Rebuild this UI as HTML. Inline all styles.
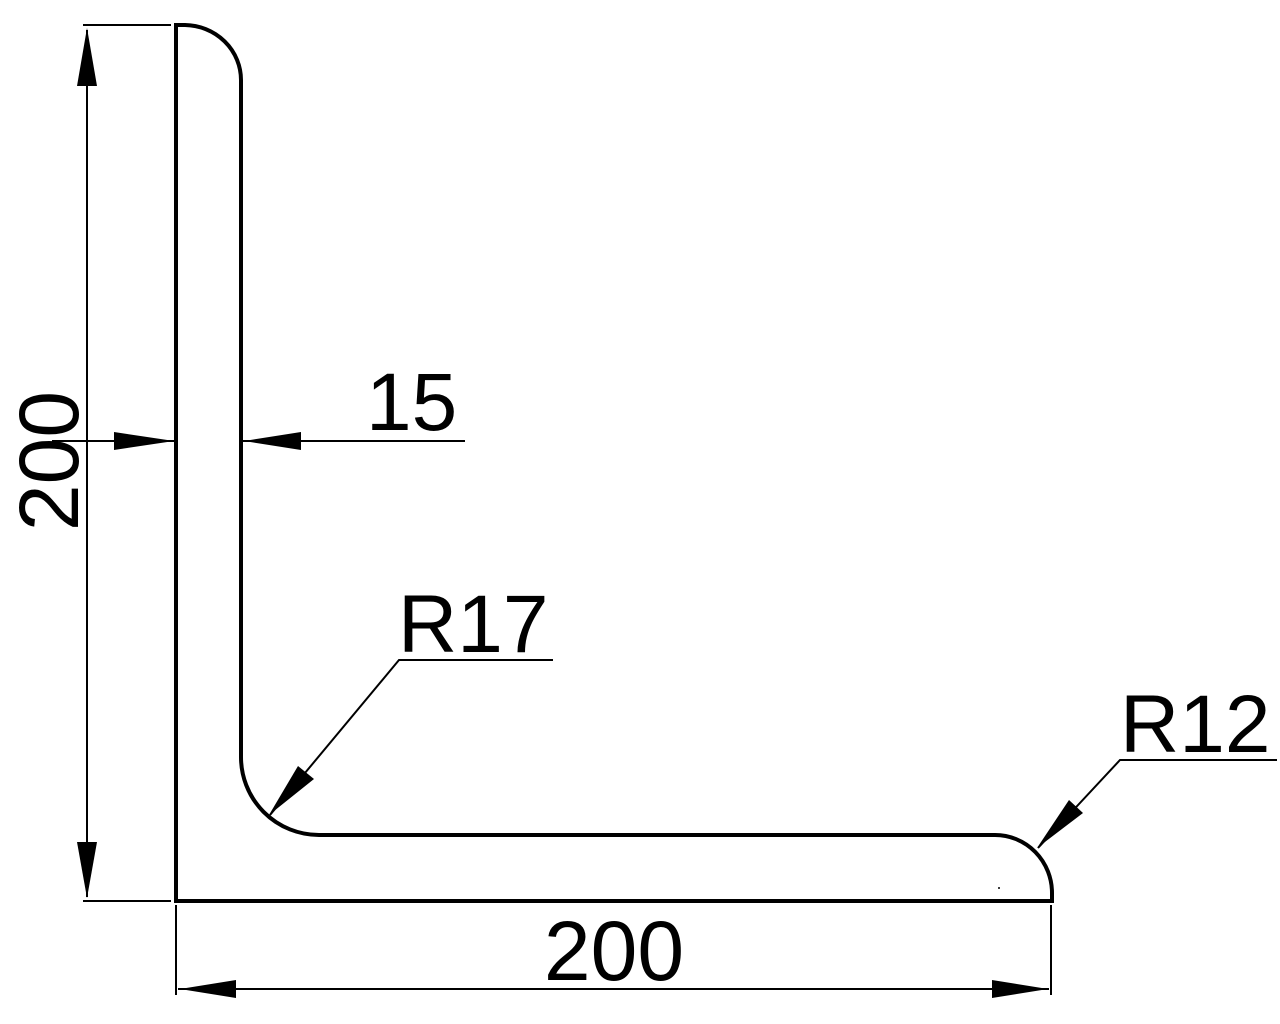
<!DOCTYPE html>
<html><head><meta charset="utf-8"><style>
html,body{margin:0;padding:0;background:#fff;}
svg{display:block;}
text{font-family:"Liberation Sans",Arial,sans-serif;fill:#000;}
</style></head><body>
<svg width="1280" height="1024" viewBox="0 0 1280 1024" xmlns="http://www.w3.org/2000/svg">
<!-- profile -->
<path d="M176,901 L176,25 L185,25 A57,55 0 0 1 241,80 L241,756 A78,78 0 0 0 319,835 L995,835 A57,58 0 0 1 1052,893 L1052,901 Z" fill="none" stroke="#000" stroke-width="4"/>
<circle cx="999" cy="888" r="1" fill="#000"/>
<g stroke="#000" stroke-width="2" fill="none">
<!-- left vertical dimension -->
<line x1="83" y1="25" x2="171" y2="25"/>
<line x1="83" y1="901" x2="171" y2="901"/>
<line x1="87" y1="30" x2="87" y2="897"/>
<!-- bottom dimension -->
<line x1="176" y1="905" x2="176" y2="995"/>
<line x1="1051" y1="905" x2="1051" y2="995"/>
<line x1="178" y1="989" x2="1049" y2="989"/>
<!-- 15 dimension -->
<line x1="52" y1="441" x2="174" y2="441"/>
<line x1="243" y1="441" x2="465" y2="441"/>
<!-- R17 leader -->
<polyline points="270,815 399,660 553,660"/>
<!-- R12 leader -->
<polyline points="1038,848 1120,760 1277,760"/>
</g>
<g fill="#000">
<polygon points="87,28 77,86 97,86"/>
<polygon points="87,898 77,842 97,842"/>
<polygon points="180,989 236,980 236,998"/>
<polygon points="1048,989 992,980 992,998"/>
<polygon points="174,441 114,432 114,450"/>
<polygon points="244,441 301,432 301,450"/>
<polygon points="269,815 298,766 314,779"/>
<polygon points="1037,848 1069,800 1083,813"/>
</g>
<text x="614" y="980" font-size="84" text-anchor="middle">200</text>
<text x="0" y="0" font-size="84" text-anchor="middle" transform="translate(78,461) rotate(-90)">200</text>
<text x="366" y="430" font-size="82">15</text>
<text x="398" y="652" font-size="82">R17</text>
<text x="1120" y="752" font-size="82">R12</text>
</svg>
</body></html>
